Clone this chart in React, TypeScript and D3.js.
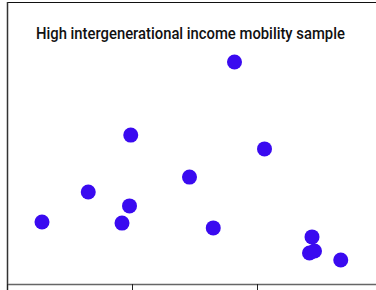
import React, { useEffect, useRef } from "react";
import * as d3 from "d3";

// values (x in tick units, y in percent of plot height)
const xValues = [0.28, 0.65, 0.92, 0.99, 0.98, 1.46, 1.65, 1.82, 2.06, 2.44, 2.42, 2.46, 2.67];
const yValues = [22.0, 32.6, 21.6, 52.8, 27.7, 37.9, 19.9, 78.7, 47.9, 16.7, 11.0, 11.7, 8.5];
const xTicks = [0, 1, 2, 3];
const title = "High intergenerational income mobility sample";

const width = 376;
const height = 290;

export default function App() {
  const ref = useRef<SVGSVGElement>(null);

  useEffect(() => {
    const svg = d3.select(ref.current);
    svg.selectAll("*").remove();

    const x = d3.scaleLinear().domain([0, 3]).range([7, 382]);
    const y = d3.scaleLinear().domain([0, 100]).range([284, 2]);

    // frame: top border and left axis line
    svg.append("line")
      .attr("x1", 7).attr("x2", width)
      .attr("y1", 2.5).attr("y2", 2.5)
      .attr("stroke", "#111").attr("stroke-width", 1);

    svg.append("line")
      .attr("x1", 7.5).attr("x2", 7.5)
      .attr("y1", 2).attr("y2", height)
      .attr("stroke", "#333").attr("stroke-width", 1.5);

    // bottom axis
    const axis = d3.axisBottom(x)
      .tickValues(xTicks)
      .tickSize(6)
      .tickSizeOuter(0)
      .tickFormat(() => "");

    const g = svg.append("g")
      .attr("transform", "translate(0," + 284 + ")")
      .call(axis);
    g.select(".domain").attr("stroke", "#666").attr("stroke-width", 1.5);
    g.selectAll(".tick line").attr("stroke", "#222");

    // title, squeezed horizontally to the condensed look of the original
    const t = svg.append("text")
      .attr("font-family", "Roboto, sans-serif")
      .attr("font-size", 17)
      .attr("font-weight", 500)
      .attr("fill", "#111")
      .text(title);
    const len = (t.node() as SVGTextElement).getComputedTextLength() || 380;
    t.attr("transform", "translate(36,39) scale(" + (309 / len) + ",1)");

    // points
    svg.selectAll("circle")
      .data(xValues.map((v, i) => [v, yValues[i]]))
      .enter().append("circle")
      .attr("cx", d => x(d[0]))
      .attr("cy", d => y(d[1]))
      .attr("r", 7.5)
      .attr("fill", "#3a0af0");
  }, []);

  return (
    <svg
      ref={ref}
      width={width}
      height={height}
      style={{ position: "absolute", left: 0, top: 0, background: "#fff" }}
    />
  );
}
